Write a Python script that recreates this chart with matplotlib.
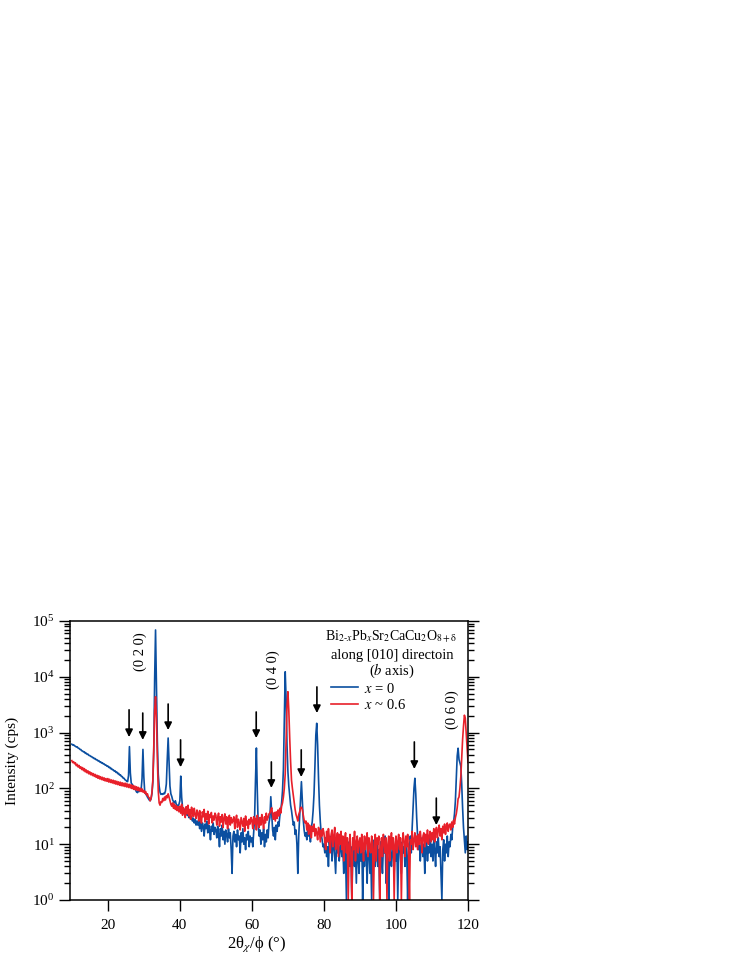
import numpy as np
import matplotlib
matplotlib.use("Agg")
import matplotlib.pyplot as plt

plt.rcParams['font.family'] = ['Liberation Serif', 'DejaVu Sans']
plt.rcParams['mathtext.fontset'] = 'stix'

# scan grid (2theta_chi/phi, degrees)
scan_start, scan_stop, scan_step = 10.0, 120.0, 0.25
two_theta = np.round(np.arange(scan_start, scan_stop + scan_step / 2, scan_step), 2)

# x = 0 sample (cps), 20 points per 5 degrees
int_x0 = [
    620, 598, 606, 580, 570, 552, 556, 528, 522, 500, 498, 472, 468, 450, 452, 425, 428, 408, 410, 390,
    388, 374, 372, 356, 356, 340, 342, 326, 326, 312, 314, 298, 300, 285, 288, 274, 275, 262, 262, 250,
    252, 238, 240, 226, 228, 216, 216, 205, 207, 194, 196, 184, 186, 174, 175, 164, 163, 153, 152, 143,
    140, 135, 132, 170, 560, 190, 125, 118, 112, 106, 100, 92, 86, 84, 90, 88, 92, 95, 150, 500,
    160, 85, 80, 76, 70, 66, 62, 60, 65, 80, 130, 450, 9000, 69000, 6000, 700, 180, 110, 85, 78,
    80, 78, 82, 80, 90, 120, 330, 800, 280, 110, 80, 72, 62, 58, 55, 60, 52, 50, 48, 52,
    60, 166, 70, 45, 40, 42, 36, 38, 33, 35, 30, 32, 28, 31, 26, 29, 24, 28, 22, 26,
    22, 27, 19, 25, 17, 24, 21, 14, 23, 19, 26, 16, 22, 18, 12, 21, 17, 24, 15, 20,
    18, 13, 21, 15, 9, 19, 14, 22, 12, 17, 10, 18, 15, 11, 19, 13, 16, 8, 3, 14,
    17, 11, 15, 9, 18, 12, 14, 7, 16, 11, 19, 10, 13, 8, 15, 12, 17, 9, 14, 11,
    13, 9, 16, 30, 140, 530, 90, 22, 14, 18, 10, 16, 12, 19, 9, 15, 11, 18, 13, 24,
    30, 71, 35, 18, 14, 20, 12, 22, 17, 25, 21, 32, 40, 55, 90, 220, 1800, 12300, 4000, 600,
    200, 110, 75, 50, 40, 30, 22, 25, 15, 18, 10, 3, 14, 30, 70, 132, 60, 28, 18, 14,
    16, 12, 19, 14, 17, 11, 20, 25, 40, 80, 250, 900, 1470, 600, 150, 50, 25, 15, 12, 9,
    10, 7, 13, 6, 9, 4, 11, 8, 14, 5, 9, 12, 6, 3, 10, 7, 15, 5, 8, 11,
    6, 9, 3, 12, 7, 1, 8, 5, 11, 4, 9, 1, 6, 13, 4, 8, 2, 10, 6, 3,
    9, 5, 12, 1, 7, 4, 10, 6, 2, 11, 8, 3, 7, 1, 9, 5, 12, 4, 6, 10,
    4, 8, 1, 11, 6, 3, 9, 7, 14, 2, 8, 5, 1, 10, 6, 4, 12, 7, 3, 9,
    5, 10, 1, 8, 13, 6, 3, 11, 7, 9, 4, 12, 6, 1, 10, 8, 14, 7, 20, 45,
    100, 152, 80, 30, 14, 8, 11, 5, 9, 13, 6, 10, 3, 8, 12, 5, 9, 7, 14, 6,
    10, 5, 12, 8, 4, 11, 7, 13, 6, 9, 3, 1, 8, 12, 5, 10, 7, 14, 6, 11,
    9, 15, 12, 20, 25, 35, 60, 150, 380, 525, 330, 290, 250, 120, 45, 20, 12, 7, 14, 8, 11,
]

# x ~ 0.6 sample (cps)
int_x06 = [
    315, 290, 302, 276, 288, 255, 270, 242, 258, 230, 244, 218, 236, 208, 226, 198, 214, 190, 206, 182,
    198, 176, 190, 170, 184, 164, 178, 158, 172, 152, 168, 148, 162, 144, 158, 140, 154, 136, 150, 134,
    150, 130, 146, 128, 142, 125, 140, 122, 137, 119, 134, 117, 131, 114, 129, 112, 126, 110, 124, 108,
    124, 106, 120, 104, 118, 102, 116, 99, 113, 96, 110, 94, 107, 92, 104, 90, 101, 88, 98, 86,
    92, 82, 88, 76, 80, 70, 68, 60, 66, 85, 140, 500, 2500, 4400, 1800, 350, 90, 55, 50, 58,
    56, 66, 60, 70, 62, 74, 68, 80, 70, 60, 52, 48, 55, 44, 52, 42, 49, 40, 47, 38,
    48, 36, 52, 33, 45, 39, 30, 47, 35, 50, 32, 42, 28, 46, 37, 31, 44, 34, 29, 41,
    36, 26, 40, 30, 24, 38, 31, 42, 25, 35, 28, 39, 23, 34, 30, 37, 24, 32, 27, 36,
    33, 22, 30, 36, 21, 31, 25, 34, 20, 29, 35, 23, 31, 19, 28, 33, 22, 30, 24, 27,
    31, 19, 27, 33, 20, 28, 24, 18, 30, 25, 21, 29, 17, 32, 22, 26, 19, 28, 23, 30,
    27, 19, 31, 23, 29, 18, 33, 25, 20, 30, 22, 34, 26, 19, 31, 24, 36, 27, 30, 35,
    36, 41, 45, 33, 28, 37, 26, 38, 29, 41, 32, 44, 36, 48, 55, 70, 100, 180, 700, 3000,
    5400, 2500, 800, 300, 140, 100, 75, 55, 42, 34, 30, 26, 34, 38, 45, 46, 42, 34, 27, 24,
    26, 18, 24, 15, 22, 19, 13, 21, 17, 23, 14, 19, 16, 12, 20, 17, 11, 18, 14, 19,
    16, 11, 8, 17, 11, 19, 13, 7, 15, 18, 9, 14, 20, 8, 12, 16, 6, 15, 10, 17,
    8, 14, 5, 12, 16, 7, 13, 1, 10, 15, 6, 1, 13, 8, 17, 5, 11, 14, 7, 11,
    13, 7, 15, 10, 5, 14, 8, 12, 16, 6, 13, 9, 7, 14, 11, 1, 8, 15, 5, 13,
    10, 14, 1, 8, 13, 6, 15, 11, 7, 13, 1, 10, 14, 5, 11, 16, 8, 13, 1, 10,
    14, 7, 11, 15, 8, 13, 1, 10, 16, 11, 6, 14, 9, 15, 7, 1, 12, 10, 17, 8,
    12, 16, 9, 14, 8, 15, 10, 17, 12, 7, 14, 16, 9, 15, 11, 18, 10, 14, 17, 11,
    16, 12, 19, 11, 17, 20, 13, 18, 22, 14, 19, 12, 21, 16, 23, 15, 20, 24, 17, 22,
    23, 18, 25, 20, 27, 23, 30, 35, 45, 65, 70, 100, 160, 350, 750, 1300, 2050, 1800, 1000, 550, 290,
]

# marker arrows (x position, tip intensity, tail intensity)
arrow_x = [25.9, 29.7, 36.75, 40.2, 61.2, 65.4, 73.7, 78.05, 105.1, 111.2]
arrow_tip = [830, 740, 1110, 240, 800, 102, 160, 2240, 223, 22]
arrow_tail = [2560, 2240, 3250, 740, 2340, 298, 490, 6590, 680, 67]

# peak index labels
peak_labels = ['(0 2 0)', '(0 4 0)', '(0 6 0)']
peak_label_x = [29.0, 66.0, 115.5]
peak_label_y = [10 ** 4.46, 10 ** 4.12, 10 ** 3.41]

series_labels = [r'$x$ = 0', r'$x$ ~ 0.6']
blue = '#0b4fa0'
red = '#e8202a'

fig = plt.figure(figsize=(7.47, 9.67), dpi=100)
ax = fig.add_axes([70 / 747, 67 / 967, 398 / 747, 279 / 967])

ax.plot(two_theta, int_x0, color=blue, lw=1.2, label=series_labels[0])
ax.plot(two_theta, int_x06, color=red, lw=1.2, label=series_labels[1])

ax.set_yscale('log')
ax.set_xlim(9.5, 120)
ax.set_ylim(1, 1e5)
ax.set_xticks([20, 40, 60, 80, 100, 120])
ax.set_yticks([1, 10, 100, 1e3, 1e4, 1e5])

for s in ax.spines.values():
    s.set_linewidth(1.1)

ax.tick_params(axis='y', which='both', direction='out', left=True, right=True,
               labelsize=11, width=1.0, pad=3)
ax.tick_params(axis='y', which='major', length=8)
ax.tick_params(axis='y', which='minor', length=4.5)
ax.tick_params(axis='x', which='major', direction='out', length=8, width=1.0,
               labelsize=11, pad=6)
ax.tick_params(axis='x', which='minor', bottom=False)

ax.set_ylabel('Intensity (cps)', fontsize=11)
ax.yaxis.set_label_coords(-0.128, 0.5)
ax.set_xlabel('2θ$_{\\chi}$/ϕ (°)', fontsize=12)
ax.xaxis.set_label_coords(0.47, -0.125)

for x, tip, tail in zip(arrow_x, arrow_tip, arrow_tail):
    ax.annotate('', xy=(x, tip), xytext=(x, tail),
                arrowprops=dict(arrowstyle='-|>', color='black', lw=1.2,
                                mutation_scale=11, shrinkA=0, shrinkB=0))

for lab, x, y in zip(peak_labels, peak_label_x, peak_label_y):
    ax.text(x, y, lab, rotation=90, ha='center', va='center', fontsize=10.5)

ax.text(0.808, 0.944, r'Bi$_{2\text{-}x}$Pb$_x$Sr$_2$CaCu$_2$O$_{8+\mathrm{\delta}}$',
        transform=ax.transAxes, ha='center', va='center', fontsize=10)
ax.text(0.81, 0.878, 'along [010] directoin', transform=ax.transAxes,
        ha='center', va='center', fontsize=10.5)
ax.text(0.808, 0.822, r'($b$ axis)', transform=ax.transAxes,
        ha='center', va='center', fontsize=10.5)

ax.legend(loc='upper left', bbox_to_anchor=(0.656, 0.783), frameon=False,
          fontsize=10.5, handlelength=1.85, handletextpad=0.4, labelspacing=0.2,
          borderpad=0, borderaxespad=0)

fig.savefig('out.png', dpi=100)
